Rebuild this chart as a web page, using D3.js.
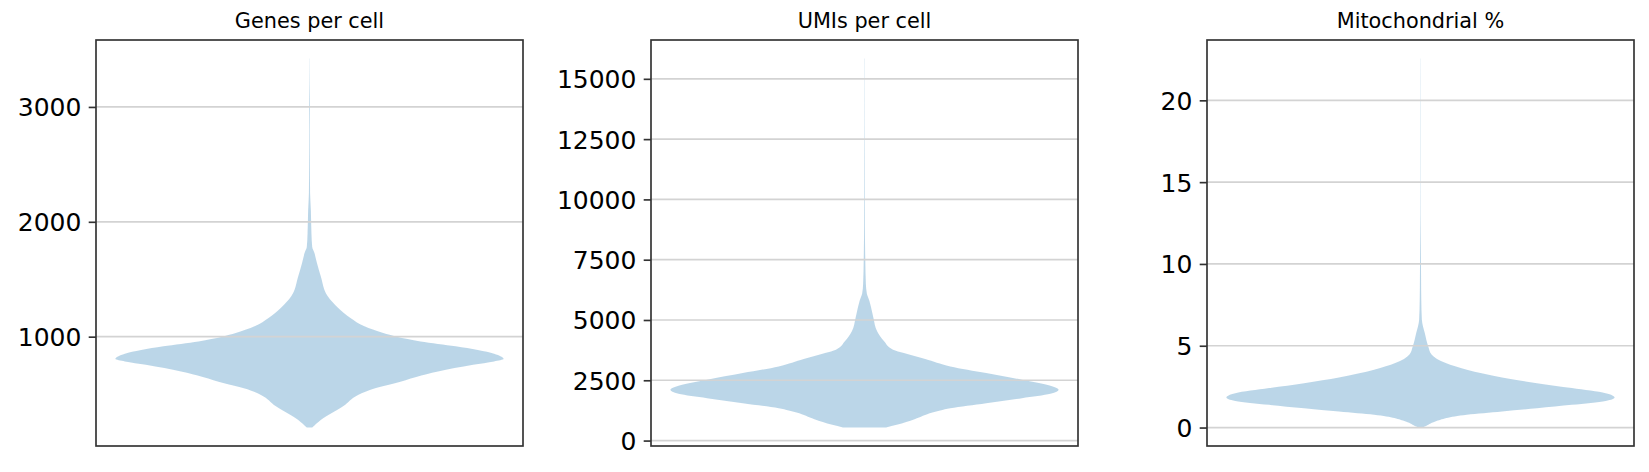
<!DOCTYPE html>
<html>
<head>
<meta charset="utf-8">
<script src="https://cdn.jsdelivr.net/npm/d3@7"></script>
<style>
  body { margin: 0; background: #ffffff; }
  svg { display: block; }
</style>
</head>
<body>
<svg id="chart" width="1649" height="472"></svg>
<script>
// ---- Data (value, relative violin width) ----
const titles = ["Genes per cell", "UMIs per cell", "Mitochondrial %"];

const genesValues  = [209, 275, 397, 493, 552, 595, 650, 697, 755, 785, 805, 851, 916, 959, 1000, 1032, 1090, 1163, 1250, 1352, 1527, 1643, 1730, 1780, 1900, 2100, 2250, 2500, 2800, 3000, 3200, 3422];
const genesDensity = [0.014, 0.058, 0.175, 0.25, 0.338, 0.44, 0.55, 0.662, 0.843, 0.951, 1.0, 0.951, 0.753, 0.572, 0.45, 0.38, 0.283, 0.211, 0.148, 0.094, 0.058, 0.038, 0.025, 0.014, 0.01, 0.007, 0.003, 0.002, 0.0015, 0.002, 0.001, 0.0005];

const umiValues  = [540, 651, 886, 1163, 1343, 1551, 1759, 1939, 2105, 2271, 2521, 2798, 3075, 3380, 3629, 3767, 4114, 4529, 5083, 5300, 5800, 6100, 6500, 7500, 9000, 11000, 13000, 15845];
const umiDensity = [0.111, 0.166, 0.258, 0.35, 0.442, 0.627, 0.811, 0.958, 1.0, 0.958, 0.811, 0.627, 0.442, 0.313, 0.203, 0.147, 0.101, 0.065, 0.046, 0.04, 0.025, 0.012, 0.007, 0.004, 0.002, 0.0015, 0.001, 0.0007];

const mitoValues  = [0, 0.06, 0.37, 0.78, 0.98, 1.18, 1.39, 1.63, 1.84, 2.10, 2.41, 2.71, 3.06, 3.53, 3.94, 4.45, 4.96, 5.78, 6.59, 7.8, 9, 11, 13, 16, 20, 22.56];
const mitoDensity = [0.01, 0.022, 0.076, 0.239, 0.42, 0.60, 0.78, 0.954, 1.0, 0.954, 0.78, 0.60, 0.42, 0.239, 0.13, 0.058, 0.04, 0.022, 0.007, 0.004, 0.003, 0.002, 0.001, 0.0008, 0.0008, 0.0005];

const genesTicks = [1000, 2000, 3000];
const umiTicks   = [0, 2500, 5000, 7500, 10000, 12500, 15000];
const mitoTicks  = [0, 5, 10, 15, 20];

// ---- Layout ----
const panelLefts = [96, 651, 1207];
const panelWidth = 427;
const plotTop = 40, plotBottom = 446;
const tickLen = 7.3, tickPad = 7.3, lw = 1.67;

const panels = [
  { title: titles[0], values: genesValues, density: genesDensity, ticks: genesTicks },
  { title: titles[1], values: umiValues,   density: umiDensity,   ticks: umiTicks },
  { title: titles[2], values: mitoValues,  density: mitoDensity,  ticks: mitoTicks }
];

const svg = d3.select("#chart");

panels.forEach((p, i) => {
  const g = svg.append("g").attr("transform", `translate(${panelLefts[i]},0)`);

  const ext = d3.extent(p.values);
  const pad = (ext[1] - ext[0]) * 0.05;
  const y = d3.scaleLinear().domain([ext[0] - pad, ext[1] + pad]).range([plotBottom, plotTop]);
  const x = d3.scaleLinear().domain([0.725, 1.275]).range([0, panelWidth]);
  const maxD = d3.max(p.density);

  const pts = p.values.map((v, k) => ({ v: v, d: p.density[k] / maxD }));

  const area = d3.area()
    .y(d => y(d.v))
    .x0(d => x(1 - 0.25 * d.d))
    .x1(d => x(1 + 0.25 * d.d))
    .curve(d3.curveMonotoneY);

  g.append("path")
    .datum(pts)
    .attr("d", area)
    .attr("fill", "#1f77b4")
    .attr("fill-opacity", 0.3)
    .attr("stroke", "none");

  // grid
  g.selectAll("line.grid")
    .data(p.ticks)
    .join("line")
    .attr("class", "grid")
    .attr("x1", 0).attr("x2", panelWidth)
    .attr("y1", d => y(d)).attr("y2", d => y(d))
    .attr("stroke", "#d3d3d3")
    .attr("stroke-width", lw);

  // y axis
  const ax = g.append("g").call(
    d3.axisLeft(y).tickValues(p.ticks).tickSize(tickLen).tickPadding(tickPad).tickFormat(d3.format("d"))
  );
  ax.select(".domain").remove();
  ax.selectAll(".tick line").attr("stroke", "#333333").attr("stroke-width", lw);
  ax.selectAll(".tick text")
    .attr("fill", "#000000")
    .attr("dy", "0.36em")
    .style("font-family", "'DejaVu Sans', sans-serif")
    .style("font-size", "25px");

  // frame
  g.append("rect")
    .attr("x", 0).attr("y", plotTop)
    .attr("width", panelWidth).attr("height", plotBottom - plotTop)
    .attr("fill", "none")
    .attr("stroke", "#333333")
    .attr("stroke-width", lw);

  // title
  g.append("text")
    .attr("x", panelWidth / 2)
    .attr("y", 28)
    .attr("text-anchor", "middle")
    .style("font-family", "'DejaVu Sans', sans-serif")
    .style("font-size", "20.8px")
    .attr("fill", "#000000")
    .text(p.title);
});
</script>
</body>
</html>
